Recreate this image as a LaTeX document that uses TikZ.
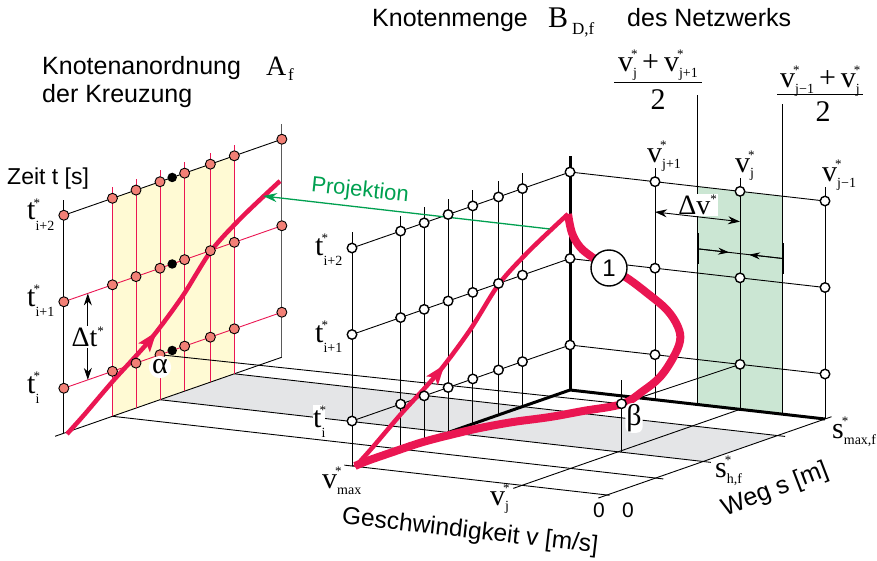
\documentclass[tikz,border=0pt]{standalone}
\usepackage{fontspec}
\setmainfont{Liberation Serif}
\newfontfamily\tms{Liberation Serif}
\newfontfamily\hel{Liberation Sans}
\usetikzlibrary{arrows.meta,decorations.markings}
\definecolor{crim}{RGB}{234,22,82}
\definecolor{salm}{RGB}{242,128,118}
\definecolor{yel}{RGB}{255,250,212}
\definecolor{grn}{RGB}{203,230,211}
\definecolor{gry}{RGB}{228,229,231}
\definecolor{pgrn}{RGB}{0,160,80}
\definecolor{edgegray}{RGB}{90,90,90}
\newcommand\hsz[1]{\fontsize{#1}{#1}\selectfont\hel}
\newcommand\tsz[1]{\fontsize{#1}{#1}\selectfont\tms}
\newcommand\lab[3][8pt]{{\tsz{30}#2}\rlap{\kern-2pt\raisebox{13pt}{\tsz{13}*}}\raisebox{-#1}{\tsz{14}#3}}
\newcommand\mn{\symbol{"2212}}
\begin{document}
\begin{tikzpicture}[x=1pt,y=-1pt,
  gl/.style={line width=0.9pt},
  rl/.style={crim,line width=0.9pt},
  thk/.style={line width=3pt},
  wnode/.style={circle,draw,fill=white,line width=1.4pt,inner sep=0pt,minimum size=9.5pt},
  pnode/.style={circle,draw,fill=salm,line width=0.9pt,inner sep=0pt,minimum size=10pt},
  bnode/.style={circle,fill=black,inner sep=0pt,minimum size=9.5pt},
  traj/.style={crim,line width=4.5pt},
  lb/.style={inner sep=0pt,anchor=base west},
  tipa/.style={-{Stealth[length=11pt,width=7pt]}},
  redarrow/.style={decoration={markings,mark=at position 0.41 with {\arrow{Stealth[length=20pt,width=14pt,inset=4pt]}}},postaction=decorate},
]
\useasboundingbox (0,0) rectangle (877,561);
\begin{scope}[shift={(607,495)},x={(218pt,76pt)},y={(-255pt,29pt)},z={(0pt,86.5pt)}]
  % fills
  \fill[gry] (0.44,0,0) -- (0.78,0,0) -- (0.78,2.13,0) -- (0.44,2.13,0) -- cycle;
  \fill[yel] (0.223,2.13,0) -- (0.782,2.13,0) -- (0.782,2.13,2.52) -- (0.223,2.13,2.52) -- cycle;
  \fill[grn] (1,0.5,0) -- (1,0.1667,0) -- (1,0.1667,2.52) -- (1,0.5,2.52) -- cycle;
  % coordinates
  \foreach \r/\t in {0/0.52,1/1.52,2/2.52}{
    \foreach \s [count=\c] in {0,0.223,0.331,0.441,0.554,0.672,0.782,1}{
      \coordinate (L\r-\c) at (\s,2.13,\t);
      \coordinate (M\r-\c) at (\s,1,\t);
    }
    \foreach \v [count=\c] in {1,0.6667,0.3333,0}{
      \coordinate (R\r-\c) at (1,\v,\t);
    }
    \coordinate (K\r) at (0.497,2.13,\t);
  }
  \coordinate (beta) at (0.441,0.32,0.56);
  \coordinate (betaB) at (0.441,0.32,0);
  \coordinate (betaT) at (0.441,0.32,0.84);
  \coordinate (dtA) at (0.11,2.13,1.52);
  \coordinate (dtB) at (0.11,2.13,0.52);
  \coordinate (dtC) at (0.11,2.13,1.02);
  \coordinate (dvA) at (1,0.6667,2.17);
  \coordinate (dvB) at (1,0.3333,2.17);
  \coordinate (dvC) at (1,0.5,2.31);
  \coordinate (bL) at (1,0.5,1.8);
  \coordinate (bR) at (1,0.1667,1.8);
  \coordinate (bLt) at (1,0.376,1.8);
  \coordinate (bRt) at (1,0.298,1.8);
  % floor lines
  \foreach \s in {0.223,0.441,0.782} \draw[gl] (\s,2.13,0) -- (\s,-0.03,0);
  \draw[gl] (0,1.03,0) -- (0,-0.01,0);
  \draw[gl] (-0.04,0,0) -- (1.03,0,0);
  \draw[gl] (-0.04,0.3333,0) -- (1,0.3333,0);
  \draw[gl] (-0.04,2.13,0) -- (1,2.13,0);
  \draw[gl] (0,1,0) -- (1,1,0);
  % left panel
  \foreach \s in {0.223,0.331,0.441,0.554,0.672,0.782} \draw[rl] (\s,2.13,0) -- (\s,2.13,2.65);
  \draw[gl] (0,2.13,0) -- (0,2.13,2.7);
  \draw[gl,edgegray] (1,2.13,0) -- (1,2.13,2.7);
  \draw[rl] (L0-1) -- (L0-8);
  \draw[rl] (L1-1) -- (L1-8);
  \draw[gl] (L2-1) -- (L2-8);
  % middle face
  \foreach \s in {0,0.223,0.331,0.441,0.554,0.672,0.782} \draw[gl] (\s,1,0) -- (\s,1,2.7);
  \foreach \r in {0,1,2} \draw[gl] (M\r-1) -- (M\r-8);
  % right face
  \foreach \r in {0,1,2} \draw[gl] (R\r-1) -- (R\r-4);
  \foreach \v in {0.6667,0.3333,0} \draw[gl] (1,\v,0) -- (1,\v,2.68);
  \draw[gl] (1,0.5,0) -- (1,0.5,3.58);
  \draw[gl] (1,0.1667,0) -- (1,0.1667,3.58);
  % projection lines
  \draw[gl] (L0-4) -- (beta);
  \draw[gl] (beta) -- (R0-3);
  \draw[gl] (betaB) -- (betaT);
  % ticks of the bracket
  \draw[line width=2pt] (1,0.5,1.62) -- (1,0.5,1.98);
  \draw[line width=2pt] (1,0.1667,1.62) -- (1,0.1667,1.98);
  % thick lines
  \draw[thk] (1,1,0) -- (1,1,2.7);
  \draw[thk] (0.44,1,0) -- (1,1,0) -- (1,0,0);
\end{scope}
% trajectories
\draw[traj,redarrow] plot[smooth] coordinates {(355,467) (372,448) (401,414) (438,373) (470,330) (499,284) (530,250) (568,214)};
\begin{scope}[shift={(-288,-33)}]
\draw[traj,redarrow] plot[smooth] coordinates {(355,467) (372,448) (401,414) (438,373) (470,330) (499,284) (530,250) (568,214)};
\end{scope}
\draw[crim,line width=8pt] plot[smooth,tension=0.6] coordinates {(568,214) (572,233) (580,247) (592,257) (609,268) (627,278) (647,293) (667,310) (678,327) (680,341) (673,358) (660,377) (643,391) (622,404) (583,411) (550,417) (513,422) (480,428) (458,433) (423,442) (390,453) (367,461) (355,466)};
% projection arrow
\coordinate (gA) at (550,229);
\coordinate (gB) at (263,196);
\draw[pgrn,line width=1.3pt,-{Stealth[length=14pt,width=9pt]}] (gA) -- (gB);
\node[pgrn,rotate=-6] (proj) at (360,191) {\hsz{22}Projektion};
% nodes
\foreach \r in {0,1,2}{
  \foreach \c in {1,...,8} \node[pnode] (nL\r-\c) at (L\r-\c) {};
  \node[bnode] (nK\r) at (K\r) {};
  \foreach \c in {1,...,8} \node[wnode] (nM\r-\c) at (M\r-\c) {};
  \foreach \c in {2,3,4} \node[wnode] (nR\r-\c) at (R\r-\c) {};
}
\node[wnode] (nbeta) at (beta) {};
\node[circle,draw,fill=white,line width=1.4pt,minimum size=36pt,inner sep=0pt] (one) at (609,268) {\hsz{24}1};
% delta t
\draw[gl,{Stealth[length=12pt,width=8pt]}-{Stealth[length=12pt,width=8pt]}] (dtA) -- (dtB);
\node[fill=white,inner sep=1pt] (dtl) at (dtC) {\tsz{28}Δt\raisebox{11pt}{\tsz{13}*}};
% delta v
\node[fill=white,inner sep=1pt] (dvl) at (dvC) {\tsz{28}Δv\raisebox{11pt}{\tsz{13}*}};
\draw[gl,{Stealth[length=12pt,width=8pt]}-{Stealth[length=12pt,width=8pt]}] (dvA) -- (dvB);
\draw[gl] (bL) -- (bR);
\draw[gl,tipa] (bL) -- (bLt);
\draw[gl,tipa] (bR) -- (bRt);
% alpha beta
\node[fill=white,circle,inner sep=0.3pt] (alpha) at (160,367) {\tsz{30}α};
\node[fill=white,rounded corners=6pt,inner sep=1pt] (betal) at (634,418) {\tsz{30}β};
% t labels
\node[lb] (tl2) at (27,220) {\lab[10pt]{t}{i+2}};
\node[lb] (tl1) at (27,306) {\lab[10pt]{t}{i+1}};
\node[lb] (tl0) at (27,393) {\lab[10pt]{t}{i}};
\node[lb] (tm2) at (315,255) {\lab[10pt]{t}{i+2}};
\node[lb] (tm1) at (315,342) {\lab[10pt]{t}{i+1}};
\node[lb,fill=white] (tm0) at (313,427) {\lab[10pt]{t}{i}};
% v labels
\node[lb] (lv1) at (647,163) {\lab[6pt]{v}{j+1}};
\node[lb] (lv2) at (735,173) {\lab[5pt]{v}{j}};
\node[lb] (lv3) at (822,182) {\lab[6pt]{v}{j\mn1}};
\node[lb] (lvm) at (322,488) {\lab[6pt]{v}{max}};
\node[lb] (lvj) at (490,505) {\lab[5pt]{v}{j}};
\node[lb] (lsm) at (832,438) {\lab[6pt]{s}{max,f}};
\node[lb] (lsh) at (715,477) {\lab[6pt]{s}{h,f}};
% fractions
\node[anchor=base,inner sep=0pt] (f1n) at (658,72) {\lab[6pt]{v}{j}\hspace{5pt}{\tsz{30}+}\hspace{5pt}\lab[6pt]{v}{j+1}};
\draw[line width=1pt] (614,83) -- (702,83);
\node[anchor=base,inner sep=0pt] (f1d) at (658,110) {\tsz{30}2};
\node[anchor=base,inner sep=0pt] (f2n) at (820,88) {\lab[6pt]{v}{j\mn1}\hspace{5pt}{\tsz{30}+}\hspace{5pt}\lab[6pt]{v}{j}};
\draw[line width=1pt] (777,95) -- (863,95);
\node[anchor=base,inner sep=0pt] (f2d) at (823,122) {\tsz{30}2};
% titles
\node[lb] (ti1) at (372,27) {\hsz{25}Knotenmenge};
\node[lb] (ti1b) at (548,28) {\tsz{30}B};
\node[lb] (ti1s) at (572,35) {\tsz{17}D,f};
\node[lb] (ti1c) at (627,27) {\hsz{25}des Netzwerks};
\node[lb] (ti2) at (42,75) {\hsz{25}Knotenanordnung};
\node[lb] (ti2a) at (266,76) {\tsz{28}A};
\node[lb] (ti2s) at (288,81) {\tsz{17}f};
\node[lb] (ti3) at (42,103) {\hsz{25}der Kreuzung};
\node[lb] (zeit) at (7,185) {\hsz{23}Zeit t [s]};
\node[rotate=-6.5] (gesch) at (470,532) {\hsz{24.5}Geschwindigkeit v [m/s]};
\node[rotate=21] (weg) at (775,490) {\hsz{25}Weg s [m]};
\node (z1) at (599,510) {\hsz{21}0};
\node (z2) at (628,510) {\hsz{21}0};
\end{tikzpicture}
\end{document}
